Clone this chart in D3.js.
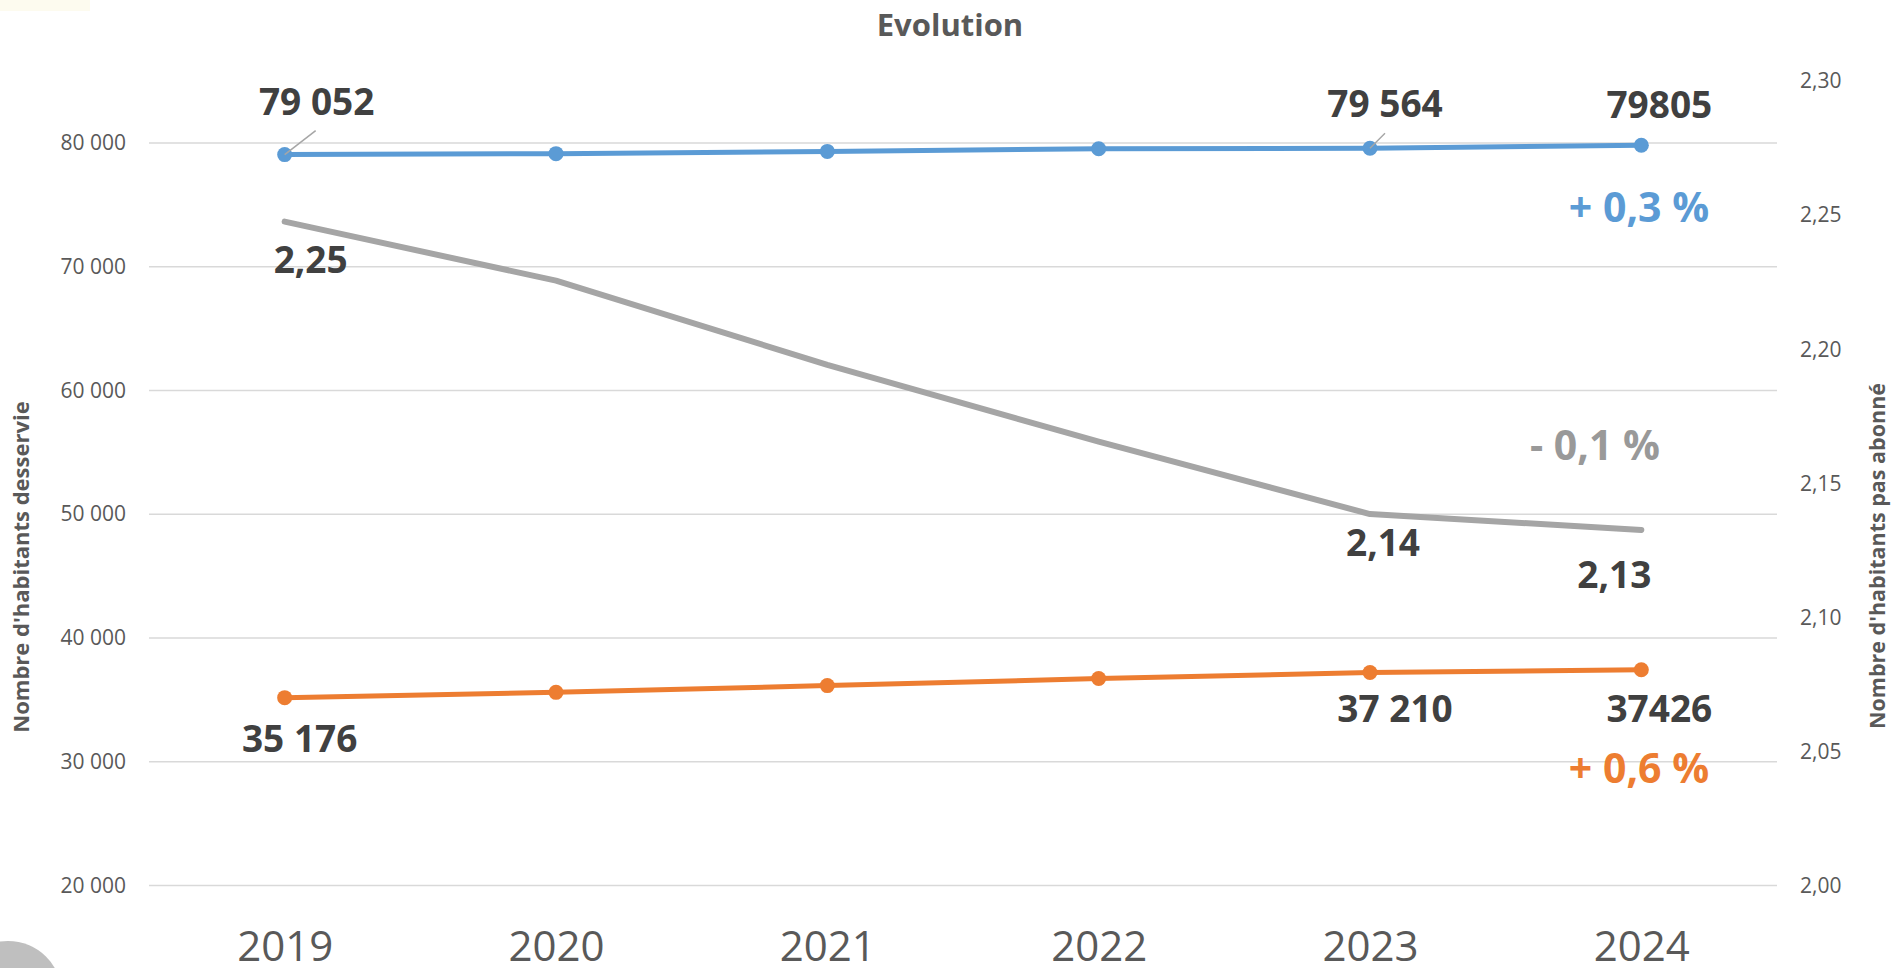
<!DOCTYPE html>
<html>
<head>
<meta charset="utf-8">
<script src="https://cdn.jsdelivr.net/npm/d3@7"></script>
<style>
  html, body { margin: 0; padding: 0; background: #fff; }
  svg { display: block; font-family: "Open Sans", "Liberation Sans", sans-serif; }
</style>
</head>
<body>
<svg id="chart" width="1892" height="968"></svg>
<script>
// années et séries
const years = ['2019', '2020', '2021', '2022', '2023', '2024'];
const habitants = [79052, 79130, 79310, 79530, 79564, 79805];
const abonnes = [35176, 35606, 36150, 36720, 37210, 37426];
const ratio = [2.2476, 2.2256, 2.1942, 2.1656, 2.1386, 2.1327];

const leftTicks = [20000, 30000, 40000, 50000, 60000, 70000, 80000];
const rightTicks = [2.00, 2.05, 2.10, 2.15, 2.20, 2.25, 2.30];

// étiquettes de valeurs affichées
const habLabels = [{ i: 0, text: '79 052' }, { i: 4, text: '79 564' }, { i: 5, text: '79805' }];
const aboLabels = [{ i: 0, text: '35 176' }, { i: 4, text: '37 210' }, { i: 5, text: '37426' }];
const ratioLabels = [{ i: 0, text: '2,25' }, { i: 4, text: '2,14' }, { i: 5, text: '2,13' }];
const evolLabels = ['+ 0,3 %', '+ 0,6 %', '- 0,1 %'];

const C = { blue: '#5B9BD5', orange: '#ED7D31', gray: '#A5A5A5', dark: '#404040', axis: '#595959', grid: '#D9D9D9' };

const svg = d3.select('#chart');
const plot = { left: 149, right: 1777, top: 81, bottom: 886 };

const x = d3.scalePoint().domain(years).range([plot.left, plot.right]).padding(0.5);
const yL = d3.scaleLinear().domain([20000, 85000]).range([plot.bottom - 0.5, plot.top]);
const yR = d3.scaleLinear().domain([2.0, 2.3]).range([plot.bottom, plot.top]);

const frNum = d => d3.format(',')(d).replace(/,/g, ' ');
const frDec = d => d3.format('.2f')(d).replace('.', ',');

// décor
svg.append('rect').attr('x', 0).attr('y', 0).attr('width', 90).attr('height', 11).attr('fill', '#FDFBEF');
svg.append('circle').attr('cx', 8).attr('cy', 995).attr('r', 54).attr('fill', '#BFBFBF');

// titre
svg.append('text').attr('x', 950).attr('y', 36).attr('text-anchor', 'middle')
  .style('font-size', '31px').style('font-weight', 700).style('fill', C.axis).text('Evolution');

// grille + axe gauche
svg.append('g').selectAll('line').data(leftTicks).enter().append('line')
  .attr('x1', plot.left).attr('x2', plot.right)
  .attr('y1', d => yL(d)).attr('y2', d => yL(d))
  .attr('stroke', C.grid).attr('stroke-width', 1.5);

const axL = svg.append('g').attr('transform', `translate(${plot.left - 23},0)`)
  .call(d3.axisLeft(yL).tickValues(leftTicks).tickFormat(frNum).tickSize(0).tickPadding(0));
axL.select('.domain').remove();
axL.selectAll('text').style('font-size', '21px').style('fill', C.axis).style('font-family', '"Open Sans", sans-serif');

const axR = svg.append('g').attr('transform', `translate(1800,0)`)
  .call(d3.axisRight(yR).tickValues(rightTicks).tickFormat(frDec).tickSize(0).tickPadding(0));
axR.select('.domain').remove();
axR.selectAll('text').style('font-size', '21px').style('fill', C.axis).style('font-family', '"Open Sans", sans-serif');

const axB = svg.append('g').attr('transform', `translate(0,${plot.bottom})`)
  .call(d3.axisBottom(x).tickSize(0).tickPadding(0));
axB.select('.domain').remove();
axB.selectAll('text').attr('dy', null).attr('y', 75).style('font-size', '42px').style('fill', C.axis)
  .style('font-family', '"Open Sans", sans-serif');

// titres d'axes
svg.append('text').attr('transform', 'translate(29,567) rotate(-90)').attr('text-anchor', 'middle')
  .style('font-size', '22px').style('font-weight', 700).style('fill', C.axis).text("Nombre d'habitants desservie");
svg.append('text').attr('transform', 'translate(1885,556) rotate(-90)').attr('text-anchor', 'middle')
  .style('font-size', '21.5px').style('font-weight', 700).style('fill', C.axis).text("Nombre d'habitants pas abonné");

// séries
const lineL = d3.line().x((d, i) => x(years[i])).y(d => yL(d));
const lineR = d3.line().x((d, i) => x(years[i])).y(d => yR(d));

svg.append('path').datum(ratio).attr('d', lineR).attr('fill', 'none')
  .attr('stroke', C.gray).attr('stroke-width', 6).attr('stroke-linecap', 'round').attr('stroke-linejoin', 'round');

[[habitants, C.blue], [abonnes, C.orange]].forEach(([data, col]) => {
  svg.append('path').datum(data).attr('d', lineL).attr('fill', 'none')
    .attr('stroke', col).attr('stroke-width', 5).attr('stroke-linejoin', 'round');
  svg.append('g').selectAll('circle').data(data).enter().append('circle')
    .attr('cx', (d, i) => x(years[i])).attr('cy', d => yL(d)).attr('r', 7.5).attr('fill', col);
});

// lignes de rappel
const leaders = [{ i: 0, dx: 31, dy: -24 }, { i: 4, dx: 15, dy: -15 }];
svg.append('g').selectAll('line').data(leaders).enter().append('line')
  .attr('x1', d => x(years[d.i])).attr('y1', d => yL(habitants[d.i]))
  .attr('x2', d => x(years[d.i]) + d.dx).attr('y2', d => yL(habitants[d.i]) + d.dy)
  .attr('stroke', '#A6A6A6').attr('stroke-width', 1.5);

function valueLabels(list, ys, offsets) {
  svg.append('g').selectAll('text').data(list).enter().append('text')
    .attr('x', (d, k) => x(years[d.i]) + offsets[k][0])
    .attr('y', (d, k) => ys(d.i) + offsets[k][1])
    .attr('text-anchor', 'middle')
    .style('font-size', '37px').style('font-weight', 700).style('fill', C.dark)
    .text(d => d.text);
}
valueLabels(habLabels, i => yL(habitants[i]), [[32, -40], [15, -31], [18, -27]]);
valueLabels(aboLabels, i => yL(abonnes[i]), [[15, 54], [25, 50], [18, 52]]);
valueLabels(ratioLabels, i => yR(ratio[i]), [[26, 51], [13, 42], [-27, 58]]);

// évolutions
const evolPos = [[1639, 222, C.blue], [1639, 783, C.orange], [1595, 460, '#999999']];
svg.append('g').selectAll('text').data(evolLabels).enter().append('text')
  .attr('x', (d, k) => evolPos[k][0]).attr('y', (d, k) => evolPos[k][1])
  .attr('text-anchor', 'middle')
  .style('font-size', '41px').style('font-weight', 700).style('fill', (d, k) => evolPos[k][2])
  .text(d => d);
</script>
</body>
</html>
